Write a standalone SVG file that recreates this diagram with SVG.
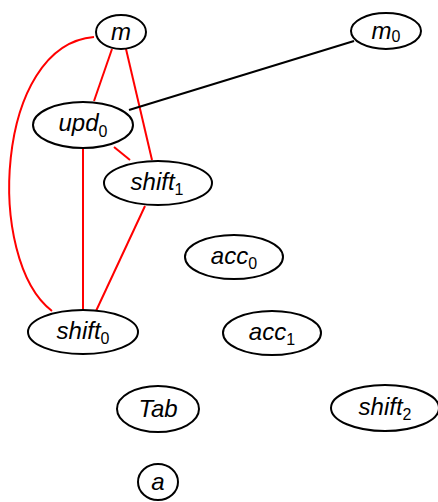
<svg xmlns="http://www.w3.org/2000/svg" width="438" height="502" viewBox="0 0 438 502">
  <style>
    .node ellipse { fill: #ffffff; stroke: #000000; stroke-width: 2; }
    .node text { font-family: "Liberation Sans", Arial, sans-serif; font-style: italic; font-size: 24px; fill: #000000; text-anchor: middle; }
    .node tspan.sub { font-size: 16px; font-style: normal; }
    .edge { fill: none; stroke-width: 2; }
    .red { stroke: #ff0000; }
    .black { stroke: #000000; }
  </style>
  <rect width="438" height="502" fill="#ffffff"/>

  <!-- connectors -->
  <g id="edges">
    <path class="edge red" d="M112,49 L94,101"/>
    <path class="edge red" d="M126,49 L152,160"/>
    <path class="edge red" d="M94,37 C-5,45 -15,260 52,311"/>
    <path class="edge red" d="M114,147 L130,160"/>
    <path class="edge red" d="M83,148 L83,310"/>
    <path class="edge red" d="M145,206 L96,311"/>
    <path class="edge black" d="M129,110 L354,41"/>
  </g>

  <!-- nodes -->
  <g id="m" class="node">
    <ellipse cx="121" cy="32" rx="25" ry="17"/>
    <text x="121" y="40">m</text>
  </g>
  <g id="m0" class="node">
    <ellipse cx="386" cy="31" rx="35" ry="18"/>
    <text x="386" y="39">m<tspan class="sub" dy="3">0</tspan></text>
  </g>
  <g id="upd0" class="node">
    <ellipse cx="83" cy="125" rx="50" ry="23"/>
    <text x="83" y="131">upd<tspan class="sub" dy="6">0</tspan></text>
  </g>
  <g id="shift1" class="node">
    <ellipse cx="158" cy="183" rx="54" ry="22"/>
    <text x="157" y="190">shift<tspan class="sub" dy="5">1</tspan></text>
  </g>
  <g id="acc0" class="node">
    <ellipse cx="234" cy="257" rx="49" ry="22"/>
    <text x="234" y="264">acc<tspan class="sub" dy="5">0</tspan></text>
  </g>
  <g id="shift0" class="node">
    <ellipse cx="83" cy="332" rx="55" ry="22"/>
    <text x="83" y="339">shift<tspan class="sub" dy="5">0</tspan></text>
  </g>
  <g id="acc1" class="node">
    <ellipse cx="272" cy="333" rx="49" ry="22"/>
    <text x="272" y="340">acc<tspan class="sub" dy="5">1</tspan></text>
  </g>
  <g id="Tab" class="node">
    <ellipse cx="158" cy="409" rx="41" ry="23"/>
    <text x="158" y="417">Tab</text>
  </g>
  <g id="shift2" class="node">
    <ellipse cx="385" cy="408" rx="54" ry="23"/>
    <text x="385" y="415">shift<tspan class="sub" dy="5">2</tspan></text>
  </g>
  <g id="a" class="node">
    <ellipse cx="158" cy="482" rx="20" ry="18"/>
    <text x="158" y="490">a</text>
  </g>
</svg>
